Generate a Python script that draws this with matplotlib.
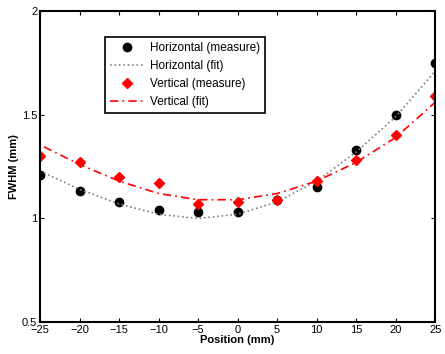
import matplotlib
matplotlib.use("Agg")
import matplotlib.pyplot as plt
from matplotlib.ticker import FormatStrFormatter

plt.rcParams['font.family'] = ['Liberation Sans', 'DejaVu Sans']

pos = [-25, -20, -15, -10, -5, 0, 5, 10, 15, 20, 25]
h_meas = [1.21, 1.13, 1.08, 1.04, 1.03, 1.03, 1.09, 1.15, 1.33, 1.50, 1.75]
v_meas = [1.30, 1.27, 1.20, 1.17, 1.07, 1.08, 1.09, 1.18, 1.28, 1.40, 1.59]

# fit curves
fit_pos = [-24.5, -20, -15, -10, -5, 0, 5, 10, 15, 20, 25]
h_fit = [1.22, 1.14, 1.07, 1.02, 1.00, 1.02, 1.08, 1.18, 1.32, 1.49, 1.71]
v_fit = [1.345, 1.26, 1.18, 1.12, 1.09, 1.09, 1.12, 1.18, 1.27, 1.39, 1.56]

fig = plt.figure(figsize=(4.45, 3.54), dpi=100)
ax = fig.add_axes([0.09, 0.09, 0.888, 0.879])

ax.plot(pos, h_meas, 'o', color='black', markersize=6, label='Horizontal (measure)')
ax.plot(fit_pos, h_fit, ':', color='gray', linewidth=1.2, label='Horizontal (fit)')
ax.plot(pos, v_meas, 'D', color='red', markersize=5.5, label='Vertical (measure)')
ax.plot(fit_pos, v_fit, color='red', linewidth=1.2, dashes=(5, 2.5, 1, 2.5),
        label='Vertical (fit)')

ax.set_xlim(-25, 25)
ax.set_ylim(0.5, 2)
ax.set_xticks(pos)
ax.set_yticks([0.5, 1, 1.5, 2])
ax.yaxis.set_major_formatter(FormatStrFormatter('%g'))
ax.tick_params(direction='in', top=True, right=True, labelsize=8, length=3, pad=2)
for s in ax.spines.values():
    s.set_linewidth(1.5)

ax.set_xlabel('Position (mm)', fontsize=8, fontweight='bold', labelpad=0)
ax.set_ylabel('FWHM (mm)', fontsize=8, fontweight='bold', labelpad=2)

leg = ax.legend(loc='upper left', bbox_to_anchor=(0.165, 0.915), fontsize=8.5,
                fancybox=False, framealpha=1, edgecolor='black',
                handlelength=2.8, handletextpad=0.6, borderpad=0.4,
                labelspacing=0.5, borderaxespad=0)
leg.get_frame().set_linewidth(1.2)

fig.savefig('out.png', dpi=100)
